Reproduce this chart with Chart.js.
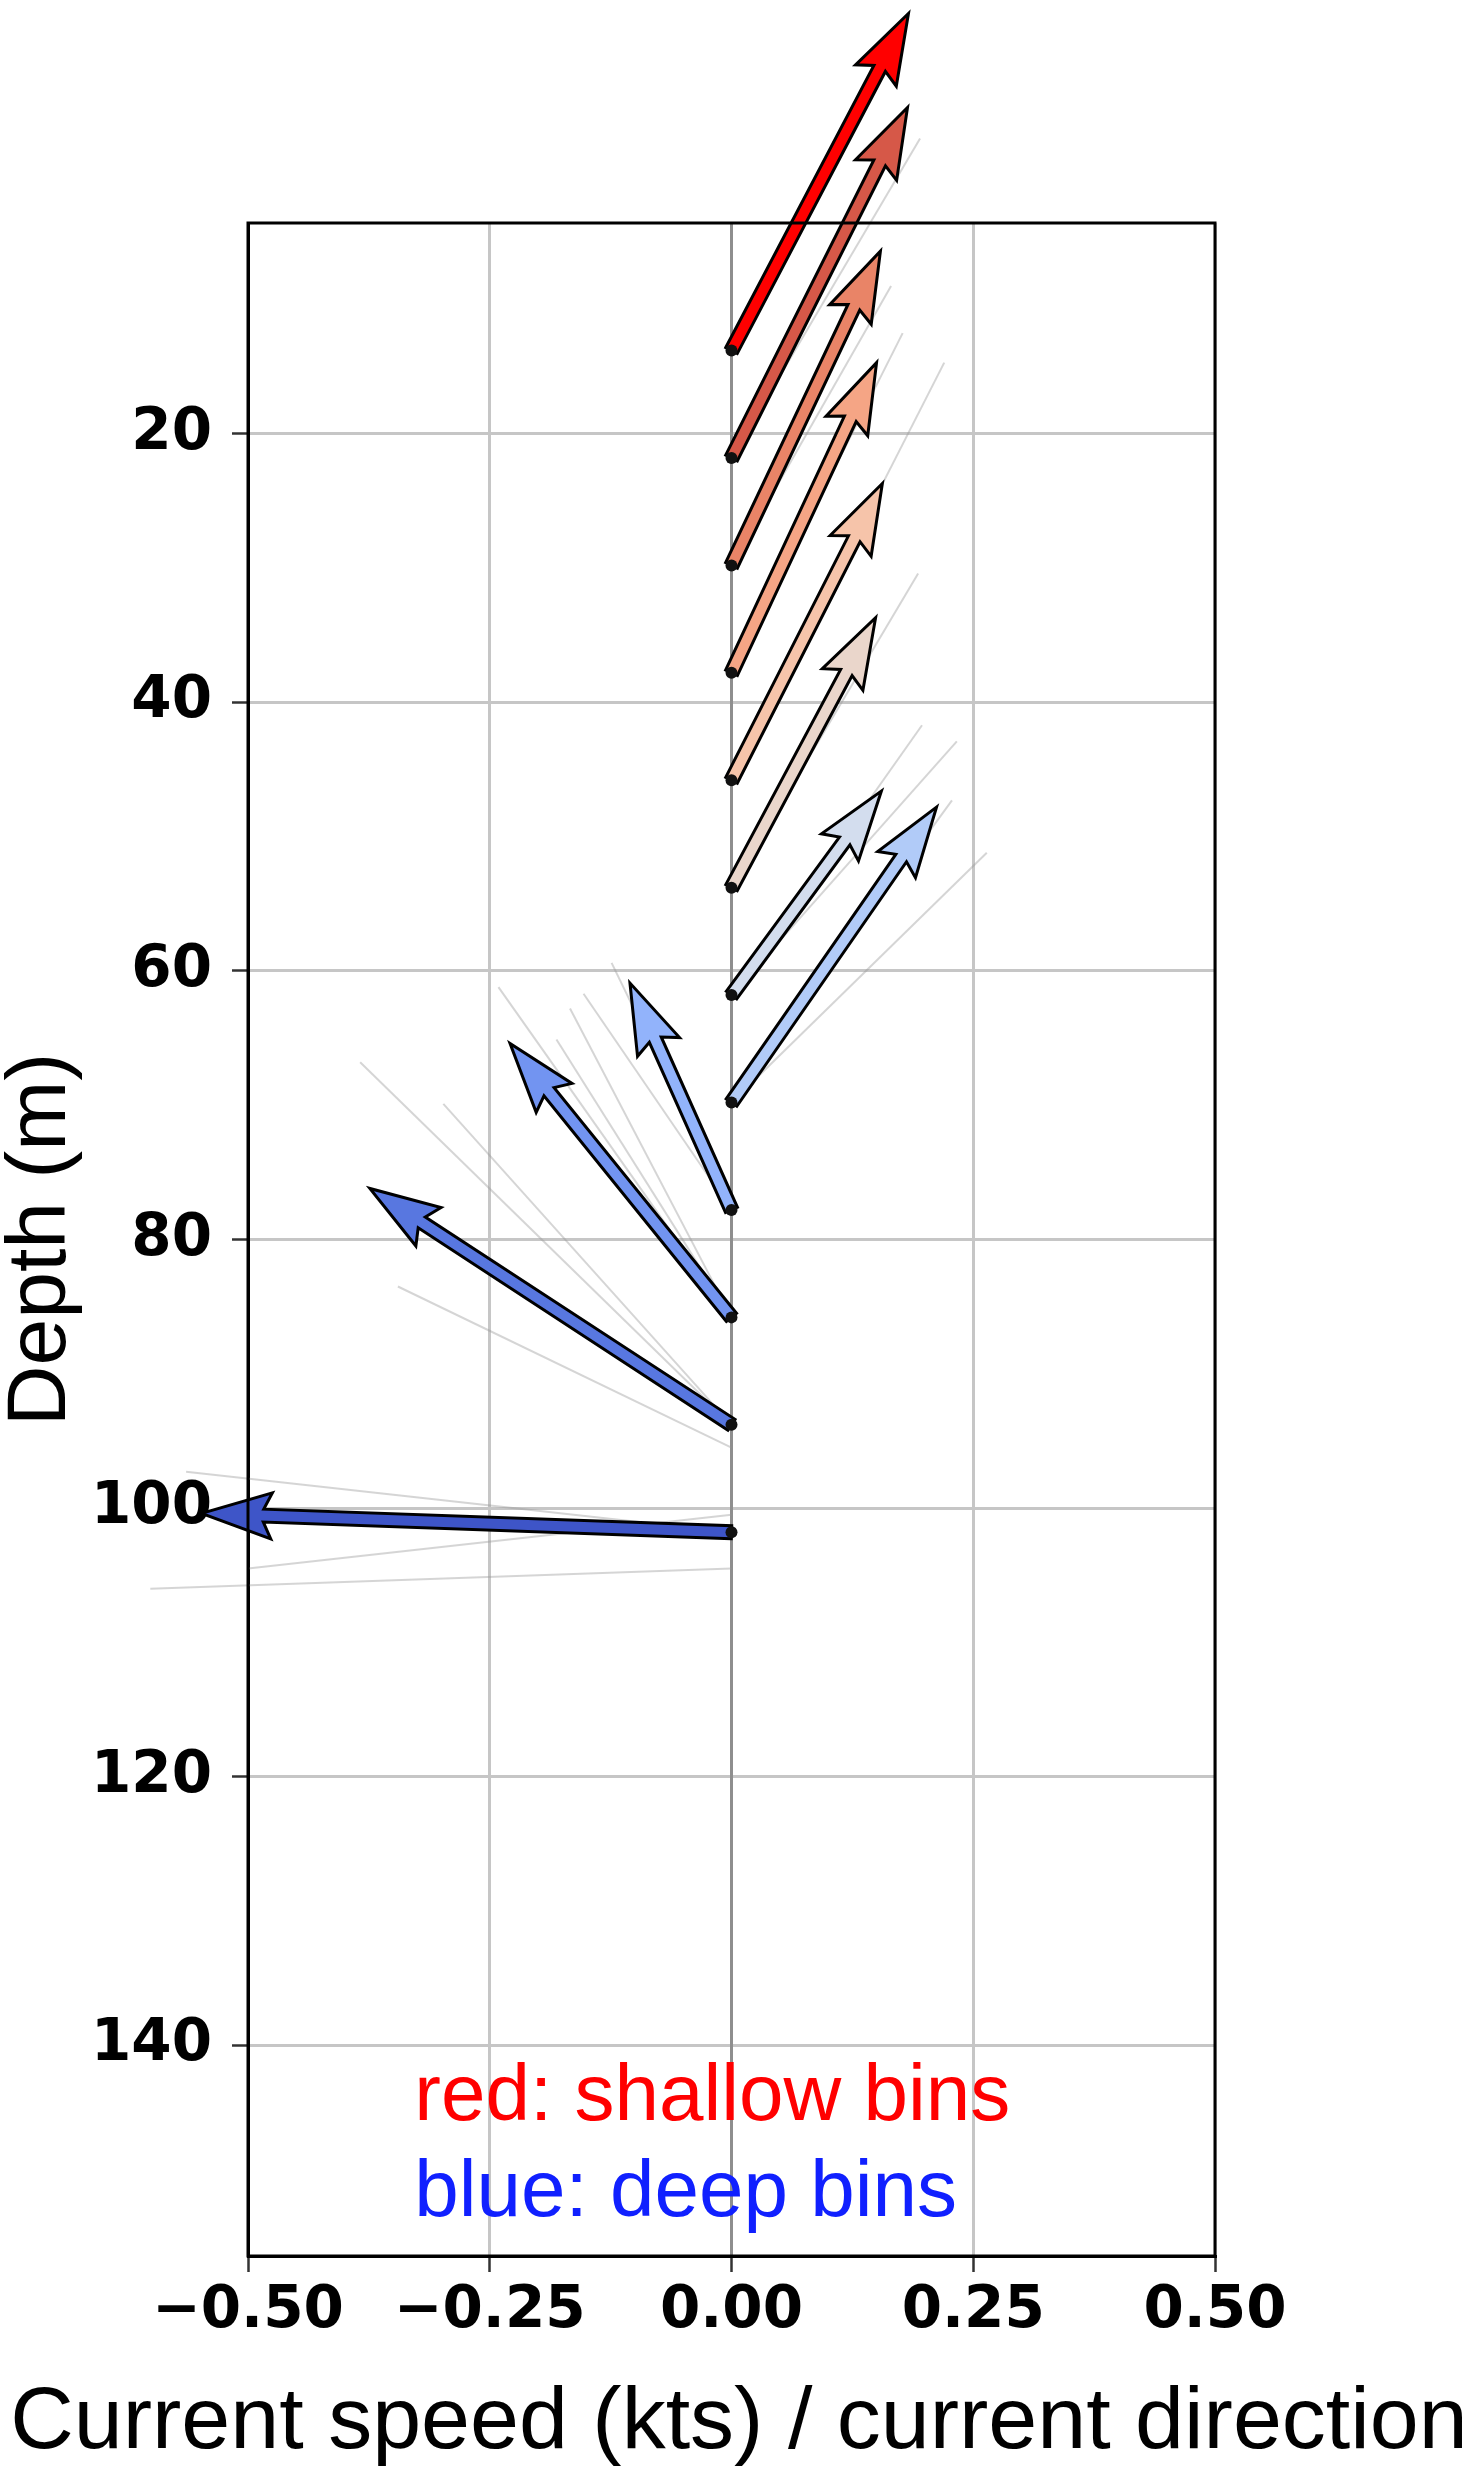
<!DOCTYPE html>
<html>
<head>
<meta charset="utf-8">
<script src="https://cdn.jsdelivr.net/npm/chart.js@4.4.1/dist/chart.umd.min.js"></script>
<style>
  body { margin: 0; background: #fff; }
  #wrap { width: 1476px; height: 2470px; }
</style>
</head>
<body>
<div id="wrap"><canvas id="myChart" width="1476" height="2470"></canvas></div>
<script>
// Depth bins (m) and the mean current arrow of each bin
const binDepths = [13.8, 21.8, 29.8, 37.8, 45.8, 53.8, 61.8, 69.8, 77.8, 85.8, 93.8, 101.8];
const tipX = [0.183, 0.182, 0.154, 0.150, 0.156, 0.149, 0.155, 0.212, -0.105, -0.229, -0.374, -0.548];
const tipDepth = [-11.3, -4.3, 6.4, 14.7, 23.7, 33.7, 46.6, 47.8, 60.9, 65.4, 76.2, 100.4];
const binColors = ['#ff0000', '#d65848', '#e98467', '#f5a585', '#f6c4aa', '#ead6cb',
                   '#d3ddee', '#b1cbf8', '#92b3fb', '#7294f1', '#5877e0', '#3e55c8'];

// Thin grey lines: individual profiles behind the mean arrows
const grayStart = [13.8, 21.8, 29.8, 37.8, 45.8, 53.8, 61.8, 61.8, 69.8, 69.8, 77.8, 77.8,
                   85.8, 85.8, 85.8, 93.8, 93.8, 95.5, 101.8, 101.8, 104.5, 100.5];
const grayEndX = [0.170, 0.195, 0.165, 0.177, 0.220, 0.193, 0.197, 0.233, 0.228, 0.264, -0.124, -0.153,
                  -0.167, -0.241, -0.181, -0.384, -0.298, -0.345, -0.564, -0.447, -0.601, -0.500];
const grayEndDepth = [-9.0, -2.0, 9.0, 12.5, 14.7, 30.4, 41.7, 42.9, 47.3, 51.2, 59.4, 61.7,
                      62.8, 61.2, 65.1, 66.8, 69.9, 83.5, 97.3, 100.2, 106.0, 104.5];

// Axis ticks
const xTicks = [-0.5, -0.25, 0, 0.25, 0.5];
const yTicks = [20, 40, 60, 80, 100, 120, 140];

const tickFont = { family: 'DejaVu Sans', size: 58, weight: 'bold' };

// Build datasets
let datasets = [];
grayStart.forEach((d, i) => {
  datasets.push({
    type: 'line',
    data: [{ x: 0, y: d }, { x: grayEndX[i], y: grayEndDepth[i] }],
    borderColor: 'rgba(150,150,150,0.4)',
    borderWidth: 2,
    pointRadius: 0,
    clip: false
  });
});
datasets.push({
  label: 'bins',
  data: binDepths.map((d, i) => ({ x: 0, y: d, tx: tipX[i], ty: tipDepth[i] })),
  pointRadius: 0,
  clip: false
});

// Draw a quiver-style arrow from (x0,y0) to (x1,y1) in pixels
function drawArrow(ctx, x0, y0, x1, y1, fill) {
  const w = 13, hw = 46, hl = 70, hal = 62;
  const L = Math.hypot(x1 - x0, y1 - y0);
  const dx = (x1 - x0) / L, dy = (y1 - y0) / L;
  const nx = -dy, ny = dx;
  const pts = [
    [0, -w / 2], [L - hal, -w / 2], [L - hl, -hw / 2], [L, 0],
    [L - hl, hw / 2], [L - hal, w / 2], [0, w / 2]
  ];
  ctx.beginPath();
  pts.forEach((p, i) => {
    const px = x0 + dx * p[0] + nx * p[1];
    const py = y0 + dy * p[0] + ny * p[1];
    if (i === 0) ctx.moveTo(px, py); else ctx.lineTo(px, py);
  });
  ctx.closePath();
  ctx.fillStyle = fill;
  ctx.fill();
  ctx.lineWidth = 3;
  ctx.lineJoin = 'miter';
  ctx.strokeStyle = '#000';
  ctx.stroke();
  // dark blob at the tail
  ctx.beginPath();
  ctx.arc(x0, y0, 6, 0, Math.PI * 2);
  ctx.fillStyle = '#111';
  ctx.fill();
}

const quiverPlugin = {
  id: 'quiver',
  beforeDatasetsDraw(chart) {
    const { ctx, chartArea, scales } = chart;
    // zero line
    const x0 = scales.x.getPixelForValue(0);
    ctx.save();
    ctx.strokeStyle = '#8e8e8e';
    ctx.lineWidth = 3;
    ctx.beginPath();
    ctx.moveTo(x0, chartArea.top);
    ctx.lineTo(x0, chartArea.bottom);
    ctx.stroke();
    ctx.restore();
  },
  afterDatasetsDraw(chart) {
    const { ctx, chartArea, scales } = chart;
    const ds = chart.data.datasets[chart.data.datasets.length - 1];
    ctx.save();
    ds.data.forEach((p, i) => {
      drawArrow(ctx,
        scales.x.getPixelForValue(p.x), scales.y.getPixelForValue(p.y),
        scales.x.getPixelForValue(p.tx), scales.y.getPixelForValue(p.ty),
        binColors[i]);
    });
    // plot frame
    ctx.strokeStyle = '#000';
    ctx.lineWidth = 3;
    ctx.strokeRect(chartArea.left, chartArea.top,
      chartArea.right - chartArea.left, chartArea.bottom - chartArea.top);
    // notes
    ctx.font = '80px "Liberation Sans"';
    ctx.textBaseline = 'alphabetic';
    ctx.textAlign = 'left';
    ctx.fillStyle = '#ff0000';
    ctx.fillText('red: shallow bins', scales.x.getPixelForValue(-0.328), scales.y.getPixelForValue(145.6));
    ctx.fillStyle = '#1020ff';
    ctx.fillText('blue: deep bins', scales.x.getPixelForValue(-0.328), scales.y.getPixelForValue(152.7));
    // x axis title (drawn here so it is not squeezed to the plot width)
    ctx.font = '88px "Liberation Sans"';
    ctx.fillStyle = '#000';
    ctx.textAlign = 'center';
    ctx.fillText('Current speed (kts) / current direction', 739, 2448);
    ctx.restore();
  }
};

var myChart = new Chart(document.getElementById('myChart'), {
  type: 'scatter',
  data: { datasets: datasets },
  options: {
    responsive: false,
    devicePixelRatio: 1,
    animation: false,
    layout: { padding: { top: 223, right: 261, bottom: 0, left: 0 } },
    plugins: { legend: { display: false }, tooltip: { enabled: false } },
    scales: {
      x: {
        type: 'linear',
        position: 'bottom',
        min: -0.5,
        max: 0.5,
        afterBuildTicks: s => { s.ticks = xTicks.map(v => ({ value: v })); },
        afterFit: s => { s.height = 214; },
        ticks: {
          font: tickFont,
          color: '#000',
          padding: 5,
          maxRotation: 0,
          autoSkip: false,
          callback: v => (v < 0 ? '\u2212' : '') + Math.abs(v).toFixed(2)
        },
        grid: { color: '#c6c6c6', lineWidth: 3, tickColor: '#333', tickLength: 16, tickWidth: 2.5 },
        border: { display: true, color: '#000', width: 3 }
      },
      y: {
        type: 'linear',
        reverse: true,
        min: 4.3,
        max: 155.7,
        afterBuildTicks: s => { s.ticks = yTicks.map(v => ({ value: v })); },
        afterFit: s => { s.width = 248; },
        ticks: { font: tickFont, color: '#000', padding: 20, autoSkip: false },
        grid: { color: '#c6c6c6', lineWidth: 3, tickColor: '#333', tickLength: 16, tickWidth: 2.5 },
        border: { display: true, color: '#000', width: 3 },
        title: {
          display: true,
          text: 'Depth (m)',
          font: { family: 'Liberation Sans', size: 84, lineHeight: 1.0 },
          color: '#000',
          padding: 0
        }
      }
    }
  },
  plugins: [quiverPlugin]
});
</script>
</body>
</html>
